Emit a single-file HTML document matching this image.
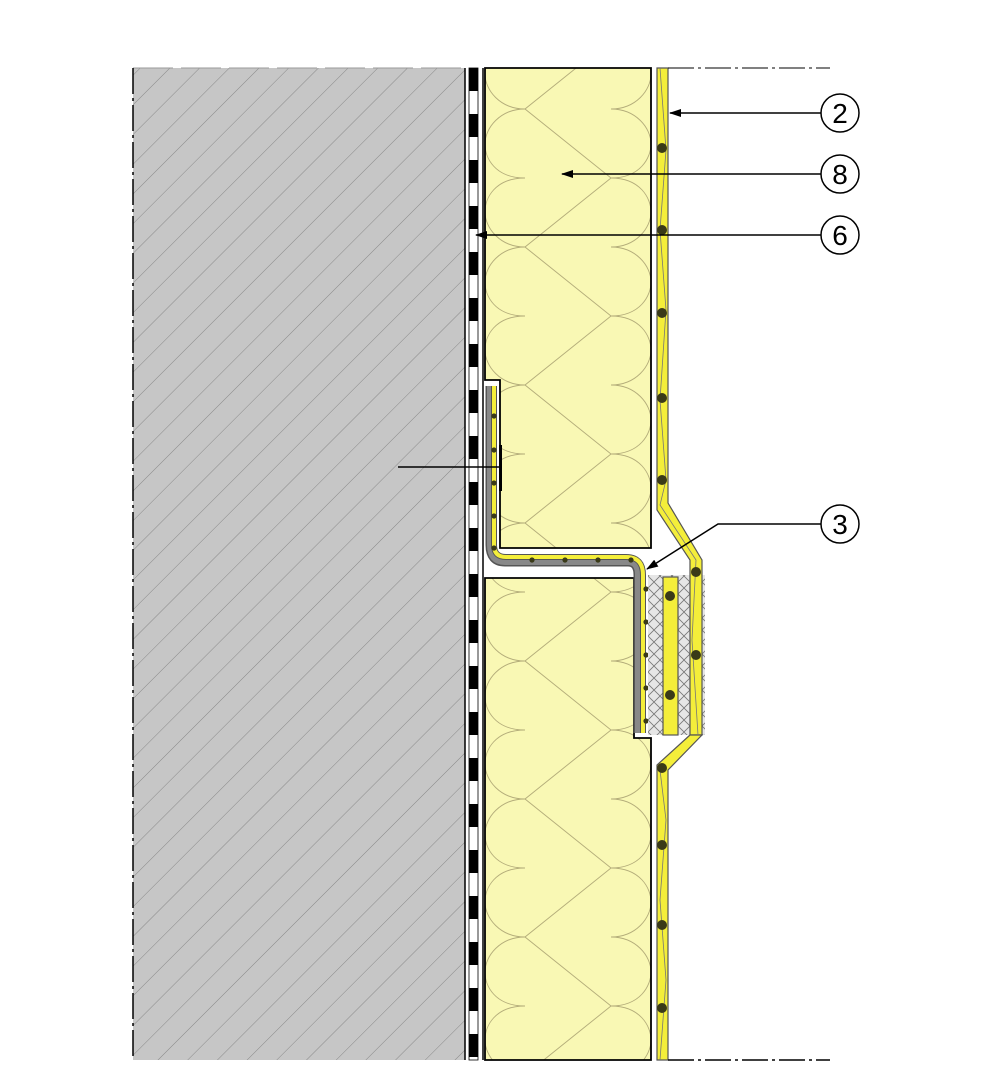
<!DOCTYPE html>
<html><head><style>html,body{margin:0;padding:0;background:#fff}svg{display:block}</style></head>
<body>
<svg width="1000" height="1082" viewBox="0 0 1000 1082" xmlns="http://www.w3.org/2000/svg" font-family="Liberation Sans, sans-serif">
<defs>
<pattern id="hatch" patternUnits="userSpaceOnUse" width="21" height="21" patternTransform="rotate(45)">
<rect width="21" height="21" fill="#c6c6c6"/>
<line x1="0" y1="0" x2="0" y2="21" stroke="#7a7a7a" stroke-width="0.8"/>
</pattern>
<pattern id="ins" patternUnits="userSpaceOnUse" x="485" y="40" width="166" height="138">
<rect width="166" height="138" fill="#f9f8b4"/>
<g fill="none" stroke="#b4ad7a" stroke-width="0.9">
<path d="M40,0 C10,0 0,20 0,34 C0,50 15,69 40,69 L126,138"/>
<path d="M40,138 C10,138 0,118 0,104 C0,88 15,69 40,69 L126,0"/>
<path d="M126,69 C151,69 166,50 166,34 C166,20 155,0 126,0"/>
<path d="M126,69 C151,69 166,88 166,104 C166,118 155,138 126,138"/>
</g>
</pattern>
<pattern id="mesh" patternUnits="userSpaceOnUse" width="12" height="12">
<rect width="12" height="12" fill="#e6e6e6"/>
<path d="M0,0 L12,12 M12,0 L0,12" stroke="#777" stroke-width="0.8"/>
</pattern>
<pattern id="memb" patternUnits="userSpaceOnUse" x="0" y="68" width="10" height="46">
<rect width="10" height="46" fill="#fff"/>
<rect width="10" height="23" fill="#000"/>
</pattern>
<marker id="ar" markerWidth="12" markerHeight="8" refX="11" refY="4" orient="auto" markerUnits="userSpaceOnUse">
<path d="M0,0 L12,4 L0,8 z" fill="#000"/>
</marker>
</defs>

<rect x="133" y="68" width="332" height="992" fill="url(#hatch)"/>
<line x1="133" y1="68" x2="465" y2="68" stroke="#999" stroke-width="1" stroke-dasharray="40,8"/>
<line x1="133" y1="68" x2="133" y2="1060" stroke="#000" stroke-width="1.5" stroke-dasharray="26,4,3,4"/>
<line x1="465" y1="68" x2="465" y2="1060" stroke="#000" stroke-width="1.5"/>
<rect x="469" y="68" width="9" height="992" fill="url(#memb)" stroke="#000" stroke-width="0.8"/>
<line x1="483" y1="68" x2="483" y2="1060" stroke="#000" stroke-width="1.5"/>

<path d="M485,68 H651 V548 H500 V380 H485 Z" fill="url(#ins)" stroke="#000" stroke-width="1.8"/>
<path d="M485,578 H634 V738 H651 V1060 H485 Z" fill="url(#ins)" stroke="#000" stroke-width="1.8"/>

<path d="M490,386 V545 Q490,562 505,562 H628 Q638,562 638,575 V733" fill="none" stroke="#555" stroke-width="9"/>
<path d="M490,386 V545 Q490,562 505,562 H628 Q638,562 638,575 V733" fill="none" stroke="#888" stroke-width="6"/>
<path d="M494,386 V545 Q494,557 506,557 H626 Q643,557 643,575 V733" fill="none" stroke="#555" stroke-width="6"/>
<path d="M494,386 V545 Q494,557 506,557 H626 Q643,557 643,575 V733" fill="none" stroke="#f4ee3a" stroke-width="4"/>
<g fill="#3a3a18">
<circle cx="494" cy="416" r="2.6"/><circle cx="494" cy="450" r="2.6"/><circle cx="494" cy="483" r="2.6"/><circle cx="494" cy="516" r="2.6"/><circle cx="494" cy="548" r="2.6"/>
<circle cx="532" cy="560" r="2.6"/><circle cx="565" cy="560" r="2.6"/><circle cx="598" cy="560" r="2.6"/><circle cx="631" cy="560" r="2.6"/>
<circle cx="646" cy="589" r="2.6"/><circle cx="646" cy="622" r="2.6"/><circle cx="646" cy="655" r="2.6"/><circle cx="646" cy="688" r="2.6"/><circle cx="646" cy="721" r="2.6"/>
</g>
<rect x="499" y="445" width="3" height="46" fill="#000"/>

<rect x="648" y="575" width="57" height="160" fill="url(#mesh)"/>

<path d="M657,68 H668 V503 L702,560 V735 H690 V560 L657,510 Z" fill="#f4ee3a" stroke="#555" stroke-width="1.2"/>
<path d="M690,735 L657,765 V1060 H668 V770 L702,735 Z" fill="#f4ee3a" stroke="#555" stroke-width="1.2"/>
<rect x="663" y="577" width="15" height="158" fill="#f4ee3a" stroke="#555" stroke-width="1.2"/>
<path d="M660,68 L666,150 L660,230 L666,310 L660,400 L666,480 L660,505 L696,560 L692,640 L698,735 M660,1060 L666,980 L660,900 L666,820 L660,770" fill="none" stroke="#777" stroke-width="0.8"/>
<g fill="#3a3a18">
<circle cx="662" cy="148" r="5"/><circle cx="662" cy="230" r="5"/><circle cx="662" cy="313" r="5"/><circle cx="662" cy="398" r="5"/><circle cx="662" cy="480" r="5"/>
<circle cx="696" cy="572" r="5"/><circle cx="696" cy="655" r="5"/>
<circle cx="670" cy="596" r="5"/><circle cx="670" cy="695" r="5"/>
<circle cx="662" cy="768" r="5"/><circle cx="662" cy="845" r="5"/><circle cx="662" cy="925" r="5"/><circle cx="662" cy="1008" r="5"/>
</g>

<line x1="668" y1="68" x2="830" y2="68" stroke="#000" stroke-width="1" stroke-dasharray="26,4,3,4"/>
<line x1="668" y1="1060" x2="830" y2="1060" stroke="#000" stroke-width="1.5" stroke-dasharray="26,4,3,4"/>

<g stroke="#000" stroke-width="1.5" fill="none">
<line x1="821" y1="113" x2="670" y2="113" marker-end="url(#ar)"/>
<line x1="821" y1="174" x2="562" y2="174" marker-end="url(#ar)"/>
<line x1="821" y1="235" x2="476" y2="235" marker-end="url(#ar)"/>
<polyline points="821,524 718,524 647,569" marker-end="url(#ar)"/>
<line x1="398" y1="467" x2="500" y2="467"/>
</g>
<g fill="#fff" stroke="#000" stroke-width="1.5">
<circle cx="840" cy="113" r="19"/><circle cx="840" cy="174" r="19"/><circle cx="840" cy="235" r="19"/><circle cx="840" cy="524" r="19"/>
</g>
<g font-size="28" text-anchor="middle" fill="#000">
<text x="840" y="123">2</text><text x="840" y="184">8</text><text x="840" y="245">6</text><text x="840" y="534">3</text>
</g>
</svg>
</body></html>
